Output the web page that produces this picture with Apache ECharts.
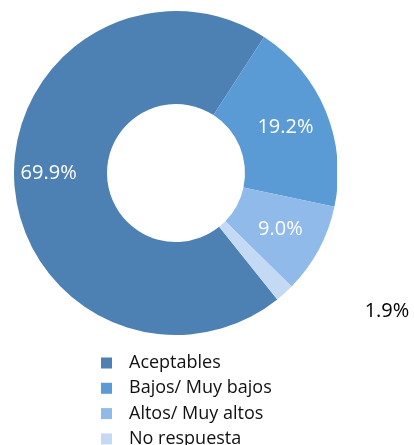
<!DOCTYPE html>
<html>
<head>
<meta charset="utf-8">
<script src="https://cdn.jsdelivr.net/npm/echarts@6/dist/echarts.min.js"></script>
<style>
html,body{margin:0;padding:0;background:#fff;}
#chart{width:414px;height:445px;}
</style>
</head>
<body>
<div id="chart"></div>
<script>
const categories = ['Aceptables', 'Bajos/ Muy bajos', 'Altos/ Muy altos', 'No respuesta'];
const values = [69.9, 19.2, 9.0, 1.9];
const colors = ['#4e81b3', '#5b9bd5', '#8fbae9', '#c4d9f3'];

const chart = echarts.init(document.getElementById('chart'), null, {renderer: 'canvas'});
const FONT = '"Open Sans", sans-serif';

chart.setOption({
  animation: false,
  color: colors,
  legend: {
    orient: 'vertical',
    left: 101,
    top: 353,
    height: 120,
    padding: 0,
    icon: 'rect',
    itemWidth: 11,
    itemHeight: 11,
    itemGap: 5.3,
    selectedMode: false,
    data: categories,
    textStyle: {
      fontFamily: FONT,
      fontSize: 18,
      lineHeight: 20,
      color: '#111',
      padding: [0, 0, 0, 12]
    }
  },
  series: [{
    type: 'pie',
    center: [176, 173],
    radius: [69, 162],
    startAngle: -51.3,
    clockwise: true,
    avoidLabelOverlap: false,
    itemStyle: { borderWidth: 0 },
    label: {
      show: true,
      position: 'inside',
      formatter: p => p.value.toFixed(1) + '%',
      color: '#fff',
      fontFamily: FONT,
      fontSize: 20
    },
    labelLine: { show: false },
    labelLayout: function (params) {
      if (params.dataIndex === 3) {
        return { x: 387, y: 311, align: 'center', verticalAlign: 'middle' };
      }
      if (params.dataIndex === 0) {
        return { dx: -9, dy: -6 };
      }
      return {};
    },
    data: categories.map((c, i) => ({
      name: c,
      value: values[i],
      label: i === 3 ? { color: '#000' } : undefined
    }))
  }],
  graphic: [{
    type: 'rect',
    shape: { x: 337, y: 100, width: 12, height: 150 },
    style: { fill: '#fff' },
    z: 100
  }]
});
</script>
</body>
</html>
